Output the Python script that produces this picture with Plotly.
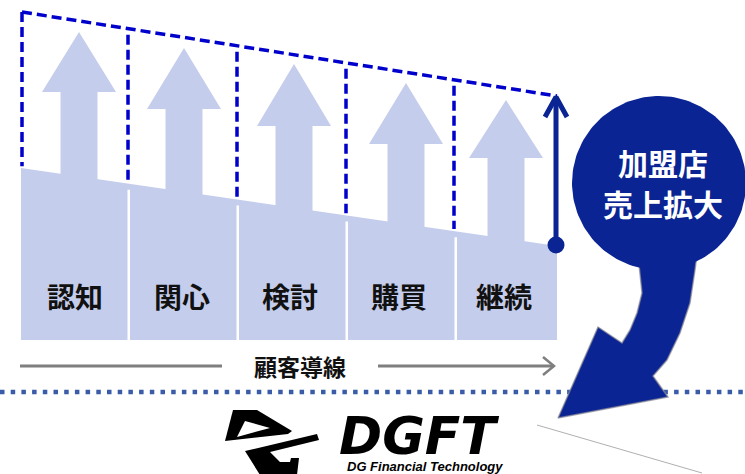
import numpy as np
import plotly.graph_objects as go

# ---------------- data ----------------
stages = ["認知", "関心", "検討", "購買", "継続"]
label_x = [75, 182, 290, 399, 504]
label_y = 296
col_left = [21, 130, 239, 348, 457]
col_right = [127.5, 236.5, 345.5, 454.5, 557]
arrow_cx = [79, 184, 294, 406, 506]
arrow_tip_y = [32, 48, 64, 83, 100]
arrow_neck_y = [92, 109, 126, 144, 158]
shaft_half = 18.5
head_half = 37
base_x = [21, 557]
base_top_y = [168, 246]
base_bottom_y = 340
frame_x = [22, 557]
frame_top_y = [12, 96]
divider_x = [22, 128, 237, 346, 454]
flow_y = 366
flow_left = [20, 222]
flow_right = [378, 554]
flow_label = "顧客導線"
sep_y = 392
bubble_center = (659, 183)
bubble_r = 87
bubble_lines = ["加盟店", "売上拡大"]
bubble_line_y = [162, 203]
tail_x = [638, 641, 642, 637, 630, 622, 598, 558, 668, 653, 667, 680, 690, 695, 697]
tail_y = [255, 280, 293, 313, 330, 343, 327, 418, 397, 376, 360, 333, 303, 270, 255]
lift_x = 556
lift_y = [245, 97]
logo_d_x = [233, 257, 292, 288, 225]
logo_d_y = [410, 410, 431, 434, 441]
logo_d_hole_x = [245, 270, 237]
logo_d_hole_y = [421, 428, 437]
logo_g_x = [245, 317, 319, 270, 280, 290, 291, 299, 297, 260]
logo_g_y = [451, 434, 440, 452, 462, 462, 458, 458, 475, 475]
logo_name = "DGFT"
logo_sub = "DG Financial Technology"

LIGHT = "#C5CDEC"
NAVY = "#0B2493"
DASH = "#0000CC"

def base_top(x):
    return float(np.interp(x, base_x, base_top_y))

def frame_top(x):
    return float(np.interp(x, frame_x, frame_top_y))

fig = go.Figure()

def poly(xs, ys, color, line_color=None, line_width=0):
    fig.add_trace(go.Scatter(
        x=xs, y=ys, mode="lines", fill="toself", fillcolor=color,
        line=dict(color=line_color or color, width=line_width),
        hoverinfo="skip", showlegend=False))

def line(xs, ys, color, width, dash="solid"):
    fig.add_trace(go.Scatter(
        x=xs, y=ys, mode="lines", line=dict(color=color, width=width, dash=dash),
        hoverinfo="skip", showlegend=False))

# base
poly([base_x[0], base_x[1], base_x[1], base_x[0]],
     [base_top_y[0], base_top_y[1], base_bottom_y, base_bottom_y], LIGHT)

# arrows
ax, ay = [], []
for cx, ty, ny in zip(arrow_cx, arrow_tip_y, arrow_neck_y):
    ax += [cx - shaft_half, cx - shaft_half, cx - head_half, cx, cx + head_half,
           cx + shaft_half, cx + shaft_half, None]
    ay += [base_bottom_y, ny, ny, ty, ny, ny, base_bottom_y, None]
poly(ax, ay, LIGHT)

# white gaps between columns
gx, gy = [], []
for r, l in zip(col_right[:-1], col_left[1:]):
    t = base_top((r + l) / 2) + 6
    gx += [r, l, l, r, None]
    gy += [t, t, base_bottom_y + 1, base_bottom_y + 1, None]
poly(gx, gy, "white")

# dashed frame
line(frame_x, frame_top_y, DASH, 3.5, "10px,5px")
for i, dx in enumerate(divider_x):
    top = frame_top_y[0] if i == 0 else frame_top(dx) + 6
    line([dx, dx], [top, base_top(dx) - 2], DASH, 3.5, "10px,5px")

# navy lift arrow
line([lift_x, lift_x], lift_y, NAVY, 5)
line([lift_x - 11, lift_x, lift_x + 11], [lift_y[1] + 20, lift_y[1], lift_y[1] + 20], NAVY, 5)
fig.add_trace(go.Scatter(x=[lift_x], y=[lift_y[0]], mode="markers",
                         marker=dict(size=17, color=NAVY), hoverinfo="skip", showlegend=False))

# customer flow line
line(flow_left, [flow_y, flow_y], "#7F7F7F", 3)
line(flow_right, [flow_y, flow_y], "#7F7F7F", 3)
line([flow_right[1] - 11, flow_right[1], flow_right[1] - 11],
     [flow_y - 9, flow_y, flow_y + 9], "#7F7F7F", 2.5)

# separator dotted line
line([0, 745], [sep_y, sep_y], "#3A5CA8", 4.5, "4.5px,6.2px")

# faint gray diagonal
line([537, 702], [425, 473], "#B0B0B0", 1)

# bubble + tail
poly(tail_x, tail_y, NAVY, "rgba(140,140,150,0.7)", 1.5)
th = np.linspace(0, 2 * np.pi, 181)
poly(list(bubble_center[0] + bubble_r * np.cos(th)),
     list(bubble_center[1] + bubble_r * np.sin(th)), NAVY)

# logo icon
poly(logo_d_x, logo_d_y, "black")
poly(logo_d_hole_x, logo_d_hole_y, "white")
poly(logo_g_x, logo_g_y, "black")

# texts
ann = []
for s, x in zip(stages, label_x):
    ann.append(dict(x=x, y=label_y, text="<b>%s</b>" % s, showarrow=False,
                    font=dict(family="Noto Sans CJK JP", size=28, color="#111111")))
ann.append(dict(x=(flow_left[1] + flow_right[0]) / 2, y=flow_y, text="<b>%s</b>" % flow_label,
                showarrow=False, font=dict(family="Noto Sans CJK JP", size=23, color="#111111")))
for s, y in zip(bubble_lines, bubble_line_y):
    ann.append(dict(x=bubble_center[0] + 4, y=y, text="<b>%s</b>" % s,
                    showarrow=False, align="center",
                    font=dict(family="Noto Sans CJK JP", size=30, color="white")))
ann.append(dict(x=337, y=436, text="<b><i>%s</i></b>" % logo_name, showarrow=False, xanchor="left",
                font=dict(family="DejaVu Sans", size=52, color="black")))
ann.append(dict(x=345, y=466, text="<b><i>%s</i></b>" % logo_sub, showarrow=False,
                xanchor="left", font=dict(family="Liberation Sans", size=13, color="black")))

fig.update_layout(
    width=745, height=474, margin=dict(l=0, r=0, t=0, b=0),
    paper_bgcolor="white", plot_bgcolor="white",
    xaxis=dict(range=[0, 745], visible=False, fixedrange=True),
    yaxis=dict(range=[474, 0], visible=False, fixedrange=True),
    annotations=ann, showlegend=False)

fig.write_html("out.html", config={"displayModeBar": False})
